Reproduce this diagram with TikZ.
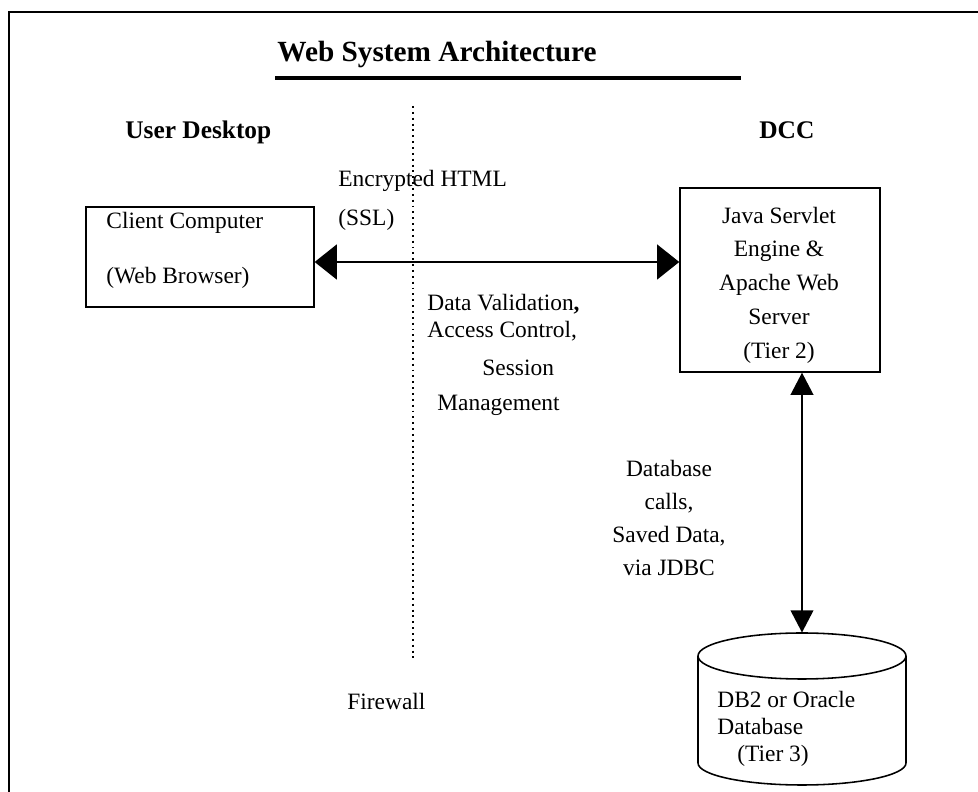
\documentclass[tikz,border=0pt]{standalone}
\usepackage{fontspec}
\setmainfont{Liberation Serif}
\usetikzlibrary{arrows.meta}

\begin{document}
\begin{tikzpicture}[x=0.018cm,y=-0.018cm,
	box/.style={draw,line width=0.8pt,inner sep=0pt},
	txt/.style={inner sep=0pt,font=\fontsize{12}{14}\selectfont},
	head/.style={inner sep=0pt,font=\fontsize{13}{15}\selectfont\bfseries},
	wide/.style={line width=0.85pt,{Triangle[length=0.4cm,width=0.63cm]}-{Triangle[length=0.4cm,width=0.63cm]}},
	slim/.style={line width=0.85pt,{Triangle[length=0.4cm,width=0.41cm]}-{Triangle[length=0.4cm,width=0.41cm]}}]
	\useasboundingbox (0,0) rectangle (978,792);
	\draw[line width=1.2pt] (978,12) -- (9,12) -- (9,792);

	\node[anchor=base west,inner sep=0pt,font=\fontsize{15}{18}\selectfont\bfseries] (title) at (277,62) {Web System Architecture};
	\draw[line width=2pt] (275,78) -- (741,78);

	\node[head,anchor=base west] (user) at (125,139) {User Desktop};
	\node[head,anchor=base west] (dcc) at (759,139) {DCC};

	% firewall
	\draw[dotted,line width=1pt] (413,106) -- (413,662);
	\node[txt,anchor=base west] (firewall) at (347,710) {Firewall};

	% boxes
	\node[box,minimum width=4.1cm,minimum height=1.8cm] (client) at (200,257) {};
	\node[box,minimum width=3.6cm,minimum height=3.31cm] (server) at (780,280) {};
	\node[inner sep=0pt,minimum width=3.74cm,minimum height=2.74cm] (db) at (802,709) {};
	% database drum
	\draw[line width=0.8pt] (802,656) ellipse [x radius=104,y radius=23];
	\draw[line width=0.8pt] (698,656) -- (698,763) arc[start angle=180,end angle=0,x radius=104,y radius=22] -- (906,656);

	\node[txt,anchor=base west] (client1) at (106,229) {Client Computer};
	\node[txt,anchor=base west] (client2) at (106,284) {(Web Browser)};
	\node[txt,align=center,font=\fontsize{12}{17.3}\selectfont] (servertext) at (779,285) {Java Servlet\\Engine \&\\Apache Web\\Server\\(Tier 2)};
	\node[txt,anchor=base west] (db1) at (717,708) {DB2 or Oracle};
	\node[txt,anchor=base west] (db2) at (717,735) {Database};
	\node[txt,anchor=base west] (db3) at (737,762) {(Tier 3)};

	% links
	\draw[wide] (client.east |- 0,262) -- (server.west |- 0,262);
	\draw[slim] (server.south -| db.north) -- (db.north);

	\node[txt,anchor=base west] (html) at (338,187) {Encrypted HTML};
	\node[txt,anchor=base west] (ssl) at (338,226) {(SSL)};
	\node[txt,anchor=base west] (valid) at (427,311) {Data Validation{\bfseries,}};
	\node[txt,anchor=base west] (access) at (427,338) {Access Control,};
	\node[txt,anchor=base west] (session) at (482,376) {Session};
	\node[txt,anchor=base west] (manage) at (437,411) {Management};
	\node[txt,align=center,font=\fontsize{12}{17}\selectfont] (jdbc) at (669,518) {Database\\calls,\\Saved Data,\\via JDBC};
\end{tikzpicture}
\end{document}
